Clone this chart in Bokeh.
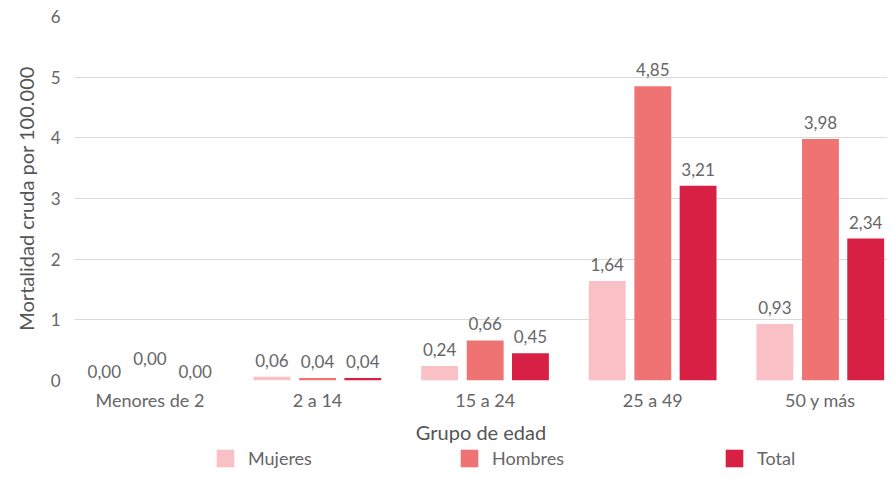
from bokeh.plotting import figure
from bokeh.layouts import column
from bokeh.models import Range1d, FixedTicker, ColumnDataSource, Legend, LegendItem
from bokeh.core.properties import value
from bokeh.embed import file_html
from bokeh.resources import INLINE

categories = ["Menores de 2", "2 a 14", "15 a 24", "25 a 49", "50 y más"]
mujeres = [0.00, 0.06, 0.24, 1.64, 0.93]
hombres = [0.00, 0.04, 0.66, 4.85, 3.98]
total = [0.00, 0.04, 0.45, 3.21, 2.34]
series_names = ["Mujeres", "Hombres", "Total"]
y_ticks = [0, 1, 2, 3, 4, 5, 6]

colors = ["#F9C1C6", "#F07373", "#D81F44"]
offsets = [-0.272, 0.0, 0.27]
FONT = "Lato"
TXT = "#666666"
W = 887
LEFT = 74

p = figure(width=W, height=446, output_backend="svg", toolbar_location=None,
           x_range=Range1d(-0.45, 4.40), y_range=Range1d(0, 6),
           min_border_left=LEFT, min_border_right=0, min_border_top=16, min_border_bottom=66)
p.outline_line_color = None
p.background_fill_color = "white"
p.border_fill_color = "white"

for name, vals, col, off in zip(series_names, [mujeres, hombres, total], colors, offsets):
    xs = [i + off for i in range(len(categories))]
    labels = [f"{v:.2f}".replace(".", ",") for v in vals]
    # zero-value labels: avoid overlap (middle one raised, outer ones near the baseline)
    yoffs = []
    for v in vals:
        if v == 0:
            yoffs.append(-16 if off == 0 else -3)
        else:
            yoffs.append(-10)
    src = ColumnDataSource(dict(x=xs, top=vals, label=labels, yoff=yoffs))
    p.vbar(x="x", top="top", width=0.22, source=src, fill_color=col, line_color=None)
    p.text(x="x", y="top", text="label", y_offset="yoff", source=src,
           text_align="center", text_baseline="bottom",
           text_font=value(FONT), text_font_size="17px", text_color=TXT)

p.xgrid.grid_line_color = None
p.ygrid.grid_line_color = "#DADADA"
p.ygrid.grid_line_width = 1

p.yaxis.ticker = FixedTicker(ticks=y_ticks)
p.yaxis.axis_label = "Mortalidad cruda por 100.000"
p.yaxis.axis_line_color = None
p.yaxis.major_tick_line_color = None
p.yaxis.minor_tick_line_color = None
p.yaxis.major_label_standoff = 8
p.yaxis.axis_label_standoff = 10
p.yaxis.major_label_text_font = FONT
p.yaxis.major_label_text_font_size = "17px"
p.yaxis.major_label_text_color = TXT
p.yaxis.axis_label_text_font = FONT
p.yaxis.axis_label_text_font_size = "20px"
p.yaxis.axis_label_text_font_style = "normal"
p.yaxis.axis_label_text_color = "#555555"

p.xaxis.ticker = FixedTicker(ticks=list(range(len(categories))))
p.xaxis.major_label_overrides = {i: c for i, c in enumerate(categories)}
p.xaxis.axis_label = "Grupo de edad"
p.xaxis.axis_line_color = None
p.xaxis.major_tick_line_color = None
p.xaxis.minor_tick_line_color = None
p.xaxis.major_label_standoff = 2
p.xaxis.axis_label_standoff = 6
p.xaxis.major_label_text_font = FONT
p.xaxis.major_label_text_font_size = "18px"
p.xaxis.major_label_text_color = TXT
p.xaxis.axis_label_text_font = FONT
p.xaxis.axis_label_text_font_size = "20px"
p.xaxis.axis_label_text_font_style = "normal"
p.xaxis.axis_label_text_color = "#555555"

# legend strip below the chart
lg = figure(width=W, height=24, output_backend="svg", toolbar_location=None,
            x_range=Range1d(0, 1), y_range=Range1d(0, 1),
            min_border_left=LEFT, min_border_right=0, min_border_top=0, min_border_bottom=0)
lg.outline_line_color = None
lg.axis.visible = False
lg.grid.grid_line_color = None
legend_x = [214, 458, 723]
for name, col, lx in zip(series_names, colors, legend_x):
    r = lg.vbar(x=[-10], top=[0], width=0.1, fill_color=col, line_color=None)
    leg = Legend(items=[LegendItem(label=name, renderers=[r])], location=(lx - LEFT, 1),
                 glyph_width=22, glyph_height=22, label_standoff=12, label_height=22,
                 label_text_font=FONT, label_text_font_size="18px", label_text_color=TXT,
                 border_line_color=None, background_fill_alpha=0, padding=0, margin=0)
    lg.add_layout(leg, "center")

open("out.html", "w").write(file_html(column(p, lg, spacing=0), INLINE))
